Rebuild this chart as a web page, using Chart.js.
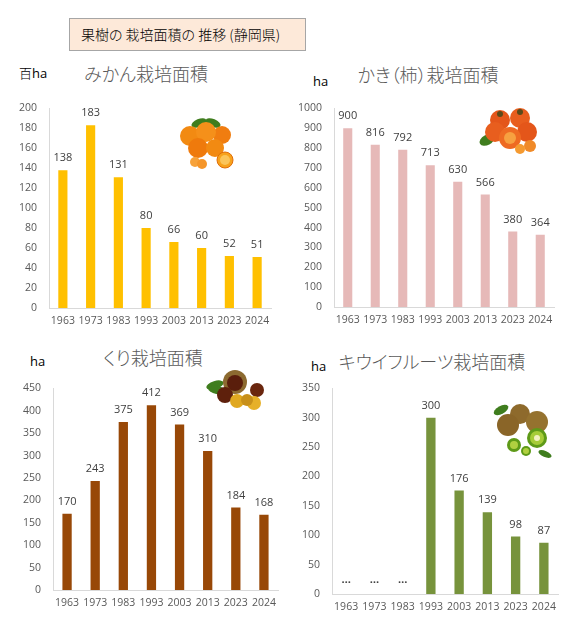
<!DOCTYPE html>
<html>
<head>
<meta charset="utf-8">
<script src="https://cdn.jsdelivr.net/npm/chart.js@4"></script>
<style>
  body { margin: 0; background: #fff; width: 581px; height: 623px; position: relative; overflow: hidden; font-family: "Noto Sans CJK JP", sans-serif; }
  canvas { position: absolute; }
  .box { position: absolute; left: 69px; top: 18px; width: 235px; height: 31px; background: #fde9d9; border: 1px solid #a6a6a6; font-size: 14px; font-weight: 300; line-height: 31px; color: #000; text-indent: 11px; font-feature-settings: "palt"; white-space: nowrap; }
  .t { position: absolute; font-size: 18px; font-weight: 300; line-height: 18px; color: #595959; font-feature-settings: "palt"; white-space: nowrap; transform: translateX(-50%); }
  .u { position: absolute; font-family: "Open Sans", "Noto Sans CJK JP", sans-serif; font-size: 13px; line-height: 14px; color: #000; }
  .u span { font-family: "Noto Sans CJK JP"; font-weight: 300; }
</style>
</head>
<body>
<div class="box">果樹の 栽培面積の 推移 (静岡県)</div>

<div class="t" style="left:146px;top:64px">みかん栽培面積</div>
<div class="t" style="left:428px;top:65px">かき（柿）栽培面積</div>
<div class="t" style="left:153px;top:348px">くり栽培面積</div>
<div class="t" style="left:432px;top:352px">キウイフルーツ栽培面積</div>

<div class="u" style="left:19px;top:66px"><span>百</span>ha</div>
<div class="u" style="left:313px;top:74px">ha</div>
<div class="u" style="left:30px;top:354px">ha</div>
<div class="u" style="left:311px;top:359px">ha</div>

<canvas id="c1" width="290" height="250" style="left:0;top:90px"></canvas>
<canvas id="c2" width="290" height="250" style="left:290px;top:90px"></canvas>
<canvas id="c3" width="290" height="250" style="left:0;top:370px"></canvas>
<canvas id="c4" width="290" height="253" style="left:290px;top:370px"></canvas>

<script>
// data
var years = ['1963', '1973', '1983', '1993', '2003', '2013', '2023', '2024'];
var mikan = [138, 183, 131, 80, 66, 60, 52, 51];      // 百ha
var kaki = [900, 816, 792, 713, 630, 566, 380, 364];  // ha
var kuri = [170, 243, 375, 412, 369, 310, 184, 168];  // ha
var kiwi = [null, null, null, 300, 176, 139, 98, 87]; // ha, "…" = no data

var mikanAxis = [0, 200, 20];
var kakiAxis = [0, 1000, 100];
var kuriAxis = [0, 450, 50];
var kiwiAxis = [0, 350, 50];

var tickFont = { family: "'Open Sans', sans-serif", size: 10.5 };

// value labels above the bars, "…" where there is no value
var barLabels = {
    id: 'barLabels',
    afterDatasetsDraw: function(chart) {
        var ctx = chart.ctx;
        var meta = chart.getDatasetMeta(0);
        var data = chart.data.datasets[0].data;
        var x = chart.scales.x, y = chart.scales.y;
        ctx.save();
        ctx.font = "11px 'Open Sans', sans-serif";
        ctx.fillStyle = '#404040';
        ctx.textAlign = 'center';
        ctx.textBaseline = 'middle';
        data.forEach(function(v, i) {
            if (v == null) {
                ctx.font = "bold 11px 'Open Sans', sans-serif";
                ctx.fillText('…', x.getPixelForValue(i), y.getPixelForValue(0) - 14);
                ctx.font = "11px 'Open Sans', sans-serif";
            } else {
                ctx.fillText(String(v), meta.data[i].x, meta.data[i].y - 12);
            }
        });
        ctx.restore();
    }
};

// rough fruit pictures, just decoration
function circ(ctx, x, y, r, fill, stroke) {
    ctx.beginPath();
    ctx.arc(x, y, r, 0, Math.PI * 2);
    ctx.fillStyle = fill;
    ctx.fill();
    if (stroke) { ctx.strokeStyle = stroke; ctx.lineWidth = 1; ctx.stroke(); }
}
function leaf(ctx, x, y, rx, ry, rot) {
    ctx.beginPath();
    ctx.ellipse(x, y, rx, ry, rot, 0, Math.PI * 2);
    ctx.fillStyle = '#3f7d1e';
    ctx.fill();
}
var fruitArt = {
    mikan: function(ctx) {
        leaf(ctx, 199, 33, 8, 4, -0.4); leaf(ctx, 213, 33, 8, 4, 0.4);
        circ(ctx, 222, 45, 9, '#f07d10'); circ(ctx, 190, 46, 10, '#f28a12');
        circ(ctx, 206, 42, 10, '#f5901a'); circ(ctx, 198, 58, 10, '#ef7a0c');
        circ(ctx, 215, 58, 9, '#f28a12');
        circ(ctx, 225, 70, 8, '#f7a21c', '#e06c08'); circ(ctx, 225, 70, 5, '#fbc55a');
        circ(ctx, 195, 72, 5, '#f7a23a'); circ(ctx, 202, 74, 5, '#f5962a');
    },
    kaki: function(ctx) {
        leaf(ctx, 197, 50, 8, 5, -0.5);
        circ(ctx, 210, 30, 10, '#e4561a'); circ(ctx, 230, 28, 10, '#e85e1e');
        circ(ctx, 237, 42, 10, '#e4561a'); circ(ctx, 205, 42, 10, '#e85e1e');
        circ(ctx, 220, 48, 11, '#ee6a22'); circ(ctx, 220, 48, 6, '#f7a040');
        circ(ctx, 240, 56, 6, '#f08a28'); circ(ctx, 230, 59, 5, '#f59a30');
        circ(ctx, 210, 24, 3, '#5a4a1a'); circ(ctx, 230, 22, 3, '#5a4a1a');
    },
    kuri: function(ctx) {
        leaf(ctx, 215, 15, 9, 4, -0.3); leaf(ctx, 217, 20, 9, 4, 0.2);
        circ(ctx, 235, 12, 12, '#8c6a30'); circ(ctx, 235, 13, 8, '#5a1e0c');
        circ(ctx, 257, 20, 7, '#6a260e'); circ(ctx, 225, 25, 8, '#5e200c');
        circ(ctx, 237, 31, 7, '#e0a820'); circ(ctx, 254, 33, 7, '#e6b028');
        circ(ctx, 247, 30, 6, '#c8901a');
    },
    kiwi: function(ctx) {
        leaf(ctx, 211, 40, 8, 4, -0.5); leaf(ctx, 255, 84, 7, 3, 0.4);
        circ(ctx, 230, 44, 10, '#8e6a2c'); circ(ctx, 247, 52, 11, '#95722f');
        circ(ctx, 218, 55, 11, '#8a6528');
        circ(ctx, 247, 68, 10, '#5e9a18'); circ(ctx, 247, 68, 7, '#a6cc38');
        circ(ctx, 247, 68, 3, '#f2f2c0');
        circ(ctx, 224, 75, 7, '#5e9a18'); circ(ctx, 224, 75, 4, '#b0d040');
        circ(ctx, 236, 81, 5, '#5e9a18'); circ(ctx, 236, 81, 3, '#b0d040');
    }
};
var fruitPlugin = {
    id: 'fruit',
    afterDraw: function(chart, args, opts) {
        if (!opts.draw) return;
        chart.ctx.save();
        fruitArt[opts.draw](chart.ctx);
        chart.ctx.restore();
    }
};

function makeChart(id, values, color, axis, lay, fruit) {
    new Chart(document.getElementById(id), {
        type: 'bar',
        data: {
            labels: years,
            datasets: [{
                data: values,
                backgroundColor: color,
                categoryPercentage: 1,
                barPercentage: 0.33
            }]
        },
        options: {
            responsive: false,
            animation: false,
            layout: { padding: { top: lay.top, right: lay.right, left: 0, bottom: 0 } },
            plugins: {
                legend: { display: false },
                tooltip: { enabled: false },
                fruit: { draw: fruit }
            },
            scales: {
                x: {
                    grid: { display: false, drawTicks: false },
                    border: { color: '#d9d9d9', width: 1 },
                    ticks: { color: '#595959', font: tickFont, padding: 7, maxRotation: 0, autoSkip: false },
                    afterFit: function(s) { s.height = lay.xh; }
                },
                y: {
                    min: axis[0],
                    max: axis[1],
                    grid: { display: false, drawTicks: false },
                    border: { color: '#d9d9d9', width: 1 },
                    ticks: {
                        stepSize: axis[2], color: '#595959', font: tickFont, padding: 12,
                        callback: function(v) { return String(v); }
                    },
                    afterFit: function(s) { s.width = lay.yw; }
                }
            }
        },
        plugins: [barLabels, fruitPlugin]
    });
}

makeChart('c1', mikan, '#ffc000', mikanAxis, { top: 11, right: 19, xh: 32, yw: 49 }, 'mikan');
makeChart('c2', kaki, '#e6b9b8', kakiAxis, { top: 11, right: 26, xh: 33, yw: 44 }, 'kaki');
makeChart('c3', kuri, '#984807', kuriAxis, { top: 13, right: 12, xh: 30, yw: 53 }, 'kuri');
makeChart('c4', kiwi, '#77933c', kiwiAxis, { top: 18, right: 22, xh: 29, yw: 42 }, 'kiwi');
</script>
</body>
</html>
